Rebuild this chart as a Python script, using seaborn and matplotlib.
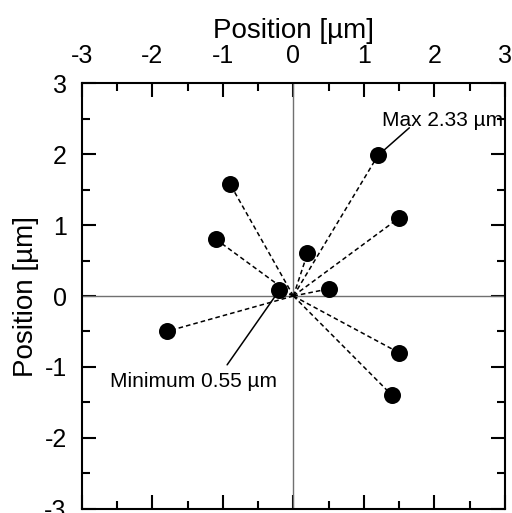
import matplotlib
matplotlib.use("Agg")
import matplotlib.pyplot as plt
import seaborn as sns
import pandas as pd

x_pos = [1.2, -0.9, -1.1, 1.5, 0.2, 0.5, -0.2, -1.8, 1.5, 1.4]
y_pos = [1.98, 1.58, 0.8, 1.1, 0.6, 0.1, 0.08, -0.5, -0.8, -1.4]
ticks = [-3, -2, -1, 0, 1, 2, 3]
max_label = "Max 2.33 \u00b5m"
min_label = "Minimum 0.55 \u00b5m"

sns.set_style("white")
plt.rcParams['font.family'] = ['Liberation Sans', 'DejaVu Sans']
plt.rcParams['axes.unicode_minus'] = False
plt.rcParams['text.color'] = 'black'
plt.rcParams['axes.labelcolor'] = 'black'
plt.rcParams['xtick.color'] = 'black'
plt.rcParams['ytick.color'] = 'black'

fig = plt.figure(figsize=(5.12, 5.13), dpi=100)
ax = fig.add_axes([0.160, 0.008, 0.826, 0.830])

ax.axhline(0, color='#707070', lw=1.0, zorder=1)
ax.axvline(0, color='#707070', lw=1.0, zorder=1)

for xv, yv in zip(x_pos, y_pos):
    ax.plot([0, xv], [0, yv], color='black', ls=(0, (3, 2)), lw=1.1, zorder=2)

df = pd.DataFrame({'x': x_pos, 'y': y_pos})
sns.scatterplot(data=df, x='x', y='y', ax=ax, color='black', s=150,
                edgecolor='black', linewidth=0, zorder=3)

# annotations
ax.plot([1.2, 1.645], [1.98, 2.37], color='black', lw=1.1, zorder=2)
ax.text(2.11, 2.48, max_label, ha='center', va='center', fontsize=15)
ax.plot([-0.2, -0.94], [0.08, -0.97], color='black', lw=1.1, zorder=2)
ax.text(-1.42, -1.21, min_label, ha='center', va='center', fontsize=15)

ax.set_xlim(-3, 3)
ax.set_ylim(-3, 3)
ax.set_xticks(ticks)
ax.set_yticks(ticks)
ax.set_xticks([-2.5, -1.5, -0.5, 0.5, 1.5, 2.5], minor=True)
ax.set_yticks([-2.5, -1.5, -0.5, 0.5, 1.5, 2.5], minor=True)
ax.set_xticklabels([str(t) for t in ticks])
ax.set_yticklabels([str(t) for t in ticks])

ax.tick_params(axis='both', which='both', direction='in', top=True, bottom=True,
               left=True, right=True, labeltop=True, labelbottom=False,
               labelleft=True, labelright=False, width=1.5, color='black',
               labelcolor='black', labelsize=18, pad=11)
ax.tick_params(which='major', length=10)
ax.tick_params(which='minor', length=6)

ax.xaxis.set_label_position('top')
ax.set_xlabel("Position [\u00b5m]", fontsize=20, labelpad=4, color='black')
ax.set_ylabel("Position [\u00b5m]", fontsize=20, labelpad=4, color='black')

for sp in ax.spines.values():
    sp.set_visible(True)
    sp.set_color('black')
    sp.set_linewidth(1.5)

fig.savefig("out.png", dpi=100)
